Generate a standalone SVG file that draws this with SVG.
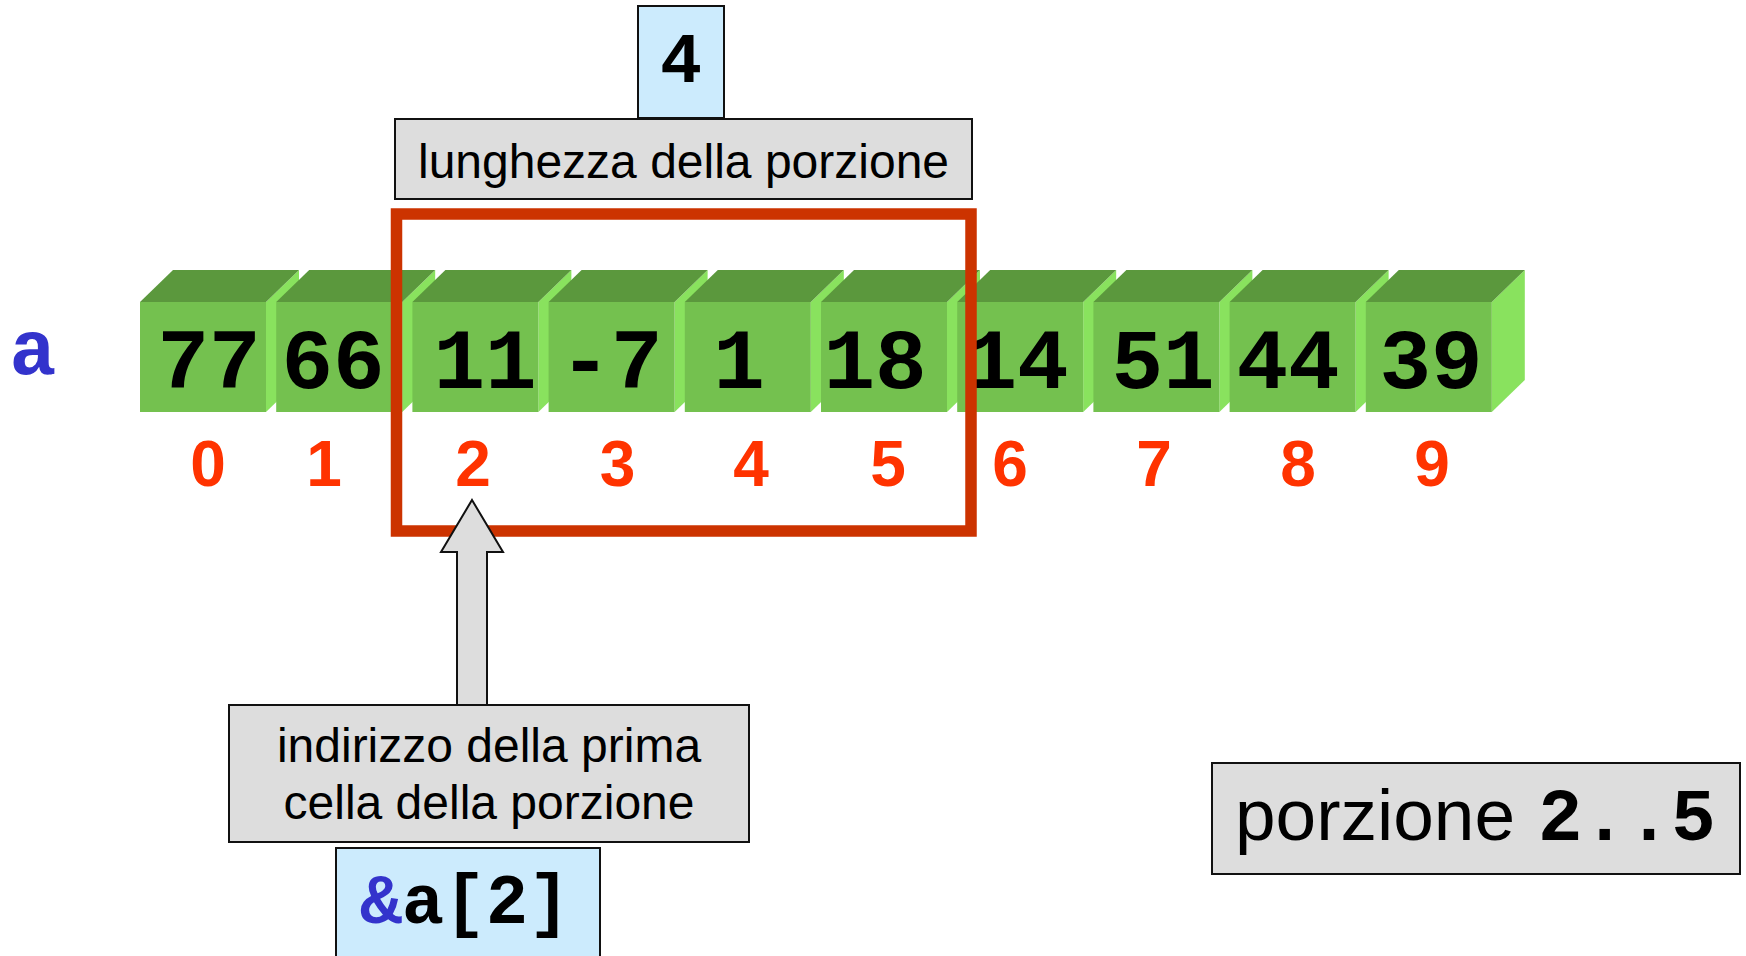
<svg xmlns="http://www.w3.org/2000/svg" xmlns:xlink="http://www.w3.org/1999/xlink" width="1746" height="956" viewBox="0 0 1746 956">
<style>
.mono{font-family:"Liberation Mono","Courier New",monospace;font-weight:bold;}
.sans{font-family:"Liberation Sans",Arial,Helvetica,sans-serif;}
.val{font-size:86px;fill:#000;text-anchor:middle;}
.idx{font-family:"Liberation Sans",Arial,sans-serif;font-weight:bold;font-size:64px;fill:#FF3300;text-anchor:middle;}
.gbox{fill:#DDDDDD;stroke:#111;stroke-width:2;}
.bbox{fill:#CCEBFD;stroke:#111;stroke-width:2;}
.lbl{font-size:48px;fill:#000;text-anchor:middle;}
</style>
<defs>
<g id="cube">
<polygon points="126,0 159,-32 159,78 126,110" fill="#89E25E"/>
<polygon points="0,0 33,-32 159,-32 126,0" fill="#5B983D"/>
<rect x="0" y="0" width="126" height="110" fill="#74C14F"/>
</g>
</defs>
<rect width="1746" height="956" fill="#fff"/>

<g id="array-name">
<text class="mono" x="33" y="374" font-size="78" fill="#3333CC" text-anchor="middle">a</text>
</g>

<g id="cell-0"><use xlink:href="#cube" x="140" y="302"/><text class="mono val" x="209" y="388">77</text><text class="idx" x="208" y="486">0</text></g>
<g id="cell-1"><use xlink:href="#cube" x="276.2" y="302"/><text class="mono val" x="333" y="388">66</text><text class="idx" x="324" y="486">1</text></g>
<g id="cell-2"><use xlink:href="#cube" x="412.4" y="302"/><text class="mono val" x="485" y="388">11</text><text class="idx" x="473" y="486">2</text></g>
<g id="cell-3"><use xlink:href="#cube" x="548.6" y="302"/><text class="mono val" x="611" y="388">-7</text><text class="idx" x="617.5" y="486">3</text></g>
<g id="cell-4"><use xlink:href="#cube" x="684.8" y="302"/><text class="mono val" x="739" y="388">1</text><text class="idx" x="751" y="486">4</text></g>
<g id="cell-5"><use xlink:href="#cube" x="821" y="302"/><text class="mono val" x="875" y="388">18</text><text class="idx" x="888" y="486">5</text></g>
<g id="cell-6"><use xlink:href="#cube" x="957.2" y="302"/><text class="mono val" x="1017" y="388">14</text><text class="idx" x="1010" y="486">6</text></g>
<g id="cell-7"><use xlink:href="#cube" x="1093.4" y="302"/><text class="mono val" x="1163" y="388">51</text><text class="idx" x="1154" y="486">7</text></g>
<g id="cell-8"><use xlink:href="#cube" x="1229.6" y="302"/><text class="mono val" x="1288" y="388">44</text><text class="idx" x="1298" y="486">8</text></g>
<g id="cell-9"><use xlink:href="#cube" x="1365.8" y="302"/><text class="mono val" x="1431" y="388">39</text><text class="idx" x="1432" y="486">9</text></g>

<g id="portion-frame">
<rect x="396.5" y="214" width="574.5" height="317" fill="none" stroke="#CC3300" stroke-width="11.5"/>
</g>

<g id="length-value">
<rect class="bbox" x="638" y="6" width="86" height="112"/>
<text class="mono" x="681" y="82" font-size="70" text-anchor="middle" fill="#000">4</text>
</g>

<g id="length-label">
<rect class="gbox" x="395" y="119" width="577" height="80"/>
<text class="sans lbl" x="683.5" y="178">lunghezza della porzione</text>
</g>

<g id="connectors">
<path d="M472,500 L503,552 L487,552 L487,705 L457,705 L457,552 L441,552 Z" fill="#DDDDDD" stroke="#111" stroke-width="2" stroke-linejoin="miter"/>
</g>

<g id="address-label">
<rect class="gbox" x="229" y="705" width="520" height="137"/>
<text class="sans lbl" x="489" y="762">indirizzo della prima</text>
<text class="sans lbl" x="489" y="819">cella della porzione</text>
</g>

<g id="address-value">
<rect class="bbox" x="336" y="848" width="264" height="120"/>
<text class="mono" x="465" y="923" font-size="70" text-anchor="middle"><tspan fill="#3333CC">&amp;</tspan><tspan fill="#000">a[2]</tspan></text>
</g>

<g id="portion-range">
<rect class="gbox" x="1212" y="763" width="528" height="111"/>
<text x="1235" y="840" font-size="73"><tspan class="sans" fill="#000">porzione</tspan><tspan class="mono" x="1538" fill="#000" font-size="74">2..5</tspan></text>
</g>
</svg>
